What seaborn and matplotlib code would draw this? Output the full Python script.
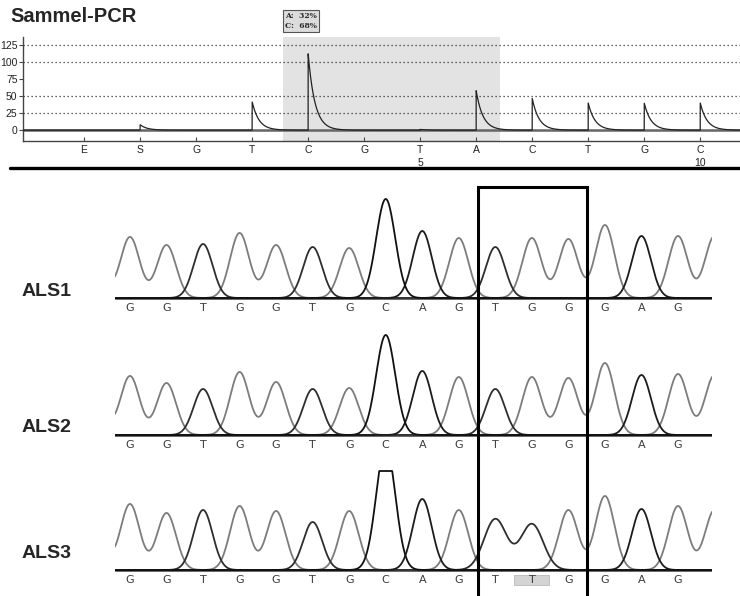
import numpy as np
import pandas as pd
import matplotlib.pyplot as plt
import seaborn as sns
from matplotlib.lines import Line2D
from matplotlib.patches import Rectangle
from matplotlib.transforms import blended_transform_factory

# --- pyrogram (Sammel-PCR) ---
dispensation = ['E', 'S', 'G', 'T', 'C', 'G', 'T', 'A', 'C', 'T', 'G', 'C']
disp_numbers = {6: '5', 11: '10'}
pyro_heights = [0, 8, 0, 42, 113, 0, 1, 58, 47, 40, 40, 40]
pyro_yticks = [0, 25, 50, 75, 100, 125]
pyro_grid = [0, 25, 50, 100, 125]
shaded = (4, 7)            # dispensations C..A analysed
allele_text = 'A:  32%\nC:  68%'

# --- Sanger chromatograms ---
samples = ['ALS1', 'ALS2', 'ALS3']
sequences = {
    'ALS1': ['G', 'G', 'T', 'G', 'G', 'T', 'G', 'C', 'A', 'G', 'T', 'G', 'G', 'G', 'A', 'G'],
    'ALS2': ['G', 'G', 'T', 'G', 'G', 'T', 'G', 'C', 'A', 'G', 'T', 'G', 'G', 'G', 'A', 'G'],
    'ALS3': ['G', 'G', 'T', 'G', 'G', 'T', 'G', 'C', 'A', 'G', 'T', 'T', 'G', 'G', 'A', 'G'],
}
peak_heights = {
    'ALS1': [61, 53, 54, 65, 53, 51, 50, 99, 67, 60, 51, 60, 59, 73, 62, 62],
    'ALS2': [59, 52, 46, 63, 53, 46, 47, 100, 64, 58, 46, 58, 57, 72, 60, 61],
    'ALS3': [66, 57, 60, 64, 59, 48, 59, 125, 71, 60, 51, 46, 60, 74, 61, 64],
}
# unlabelled G peaks just outside the shown window (left, right)
flank_heights = {'ALS1': (55, 62), 'ALS2': (55, 60), 'ALS3': (58, 60)}
saturation = {'ALS1': None, 'ALS2': None, 'ALS3': 99}
wide_peaks = {'ALS1': [], 'ALS2': [], 'ALS3': [10, 11]}
marked_base = ('ALS3', 11)
box_bases = (10, 12)

base_colors = {'A': '#1c1c1c', 'C': '#111111', 'G': '#7c7c7c', 'T': '#2e2e2e'}

sns.set_theme(style='white')
plt.rcParams['font.family'] = ['Liberation Sans', 'DejaVu Sans']

W, H = 740, 596
fig = plt.figure(figsize=(W / 100, H / 100), dpi=100)

def fx(px):
    return px / W

def fy(py):
    return 1 - py / H

# ---------- pyrogram ----------
ax = fig.add_axes([fx(23), fy(141), fx(717), 104 / H])
xg = np.union1d(np.linspace(-1.2, 11.8, 6000), np.arange(len(dispensation)) - 1e-4)
sig = np.zeros_like(xg)
for i, h in enumerate(pyro_heights):
    t = xg - i
    sig += h * np.where(t >= 0, np.exp(-np.clip(t, 0, None) / 0.12), 0)
pyro_df = pd.DataFrame({'x': xg, 'signal': sig})
ax.axvspan(shaded[0] - 0.45, shaded[1] + 0.43, color='#e3e3e3', zorder=0, lw=0)
for g in pyro_grid:
    ax.axhline(g, color='#333333', lw=0.9, ls=(0, (1, 2.2)), zorder=1)
ax.axhline(0, color='#666666', lw=1.8, zorder=2)
sns.lineplot(data=pyro_df, x='x', y='signal', ax=ax, color='#222222', lw=0.9,
             estimator=None, zorder=3)
ax.set_xlim(-1.09, 11.71)
ax.set_ylim(-16, 137)
ax.set_yticks(pyro_yticks)
ax.set_yticklabels([str(v) for v in pyro_yticks], fontsize=7.5, color='#222222')
ax.set_xticks(range(len(dispensation)))
ax.set_xticklabels([b + ('\n' + disp_numbers[i] if i in disp_numbers else '')
                    for i, b in enumerate(dispensation)], fontsize=7.5, color='#222222',
                   linespacing=1.3, va='top')
ax.tick_params(axis='x', direction='in', length=3, width=0.8, pad=3, color='#444444', bottom=True)
ax.tick_params(axis='y', direction='out', length=3, width=0.8, pad=1, color='#444444', left=True)
ax.set_xlabel('')
ax.set_ylabel('')
for s in ['top', 'right']:
    ax.spines[s].set_visible(False)
for s in ['left', 'bottom']:
    ax.spines[s].set_color('#444444')
    ax.spines[s].set_linewidth(1.0)

fig.text(fx(10), fy(16), 'Sammel-PCR', fontsize=14.5, fontweight='bold', va='center', ha='left')
fig.text(fx(285), fy(21), allele_text, fontsize=5.5, fontweight='bold', family='DejaVu Serif',
         va='center', ha='left', linespacing=1.25,
         bbox=dict(boxstyle='square,pad=0.25', fc='#dcdcdc', ec='#555555', lw=0.8))

fig.add_artist(Line2D([fx(10), 1.0], [fy(168), fy(168)], color='black', lw=2.4))

# ---------- chromatograms ----------
baselines = {'ALS1': 298, 'ALS2': 435, 'ALS3': 570}
label_y = {'ALS1': 291, 'ALS2': 428, 'ALS3': 553}
x0, x1 = -0.41, 15.93
sigma, sigma_wide = 0.26, 0.31
xs = np.linspace(-1.5, 17, 3000)
axes = {}
for name in samples:
    b = baselines[name]
    cax = fig.add_axes([fx(115), fy(b + 14), fx(597), 124 / H])
    axes[name] = cax
    seq = ['G'] + sequences[name] + ['G']
    hts = [flank_heights[name][0]] + peak_heights[name] + [flank_heights[name][1]]
    rows = []
    for base in 'ACGT':
        y = np.zeros_like(xs)
        for j, (sb, h) in enumerate(zip(seq, hts)):
            if sb == base:
                pos = j - 1
                s = sigma_wide if pos in wide_peaks[name] else sigma
                y += h * np.exp(-(xs - pos) ** 2 / (2 * s ** 2))
        if saturation[name] is not None:
            y = np.minimum(y, saturation[name])
        rows.append(pd.DataFrame({'x': xs, 'signal': y, 'base': base}))
    df = pd.concat(rows, ignore_index=True)
    cax.axhline(0, color='#3a3a3a', lw=1.8, zorder=1)
    sns.lineplot(data=df, x='x', y='signal', hue='base', palette=base_colors,
                 hue_order=['G', 'T', 'A', 'C'], estimator=None, lw=1.3,
                 legend=False, ax=cax, zorder=2)
    cax.set_xlim(x0, x1)
    cax.set_ylim(-14, 110)
    cax.axis('off')
    for i, base in enumerate(sequences[name]):
        if (name, i) == marked_base:
            cax.add_patch(Rectangle((i - 0.48, -15), 0.96, 10.5, fc='#d4d4d4', ec='#b8b8b8',
                                    lw=0.6, clip_on=False, zorder=0))
        cax.text(i, -10, base, ha='center', va='center', fontsize=8,
                 family='DejaVu Sans', color='#3a3a3a')
    fig.text(fx(22), fy(label_y[name]), name, fontsize=14, fontweight='bold',
             va='center', ha='left')

# box around the variable site
tr = blended_transform_factory(axes['ALS1'].transData, fig.transFigure)
bl, br = box_bases[0] - 0.47, box_bases[1] + 0.51
fig.add_artist(Line2D([bl, bl, br, br], [0, fy(187), fy(187), 0], color='black',
                      lw=2.2, transform=tr, solid_joinstyle='miter'))

fig.savefig('out.png', dpi=100)
